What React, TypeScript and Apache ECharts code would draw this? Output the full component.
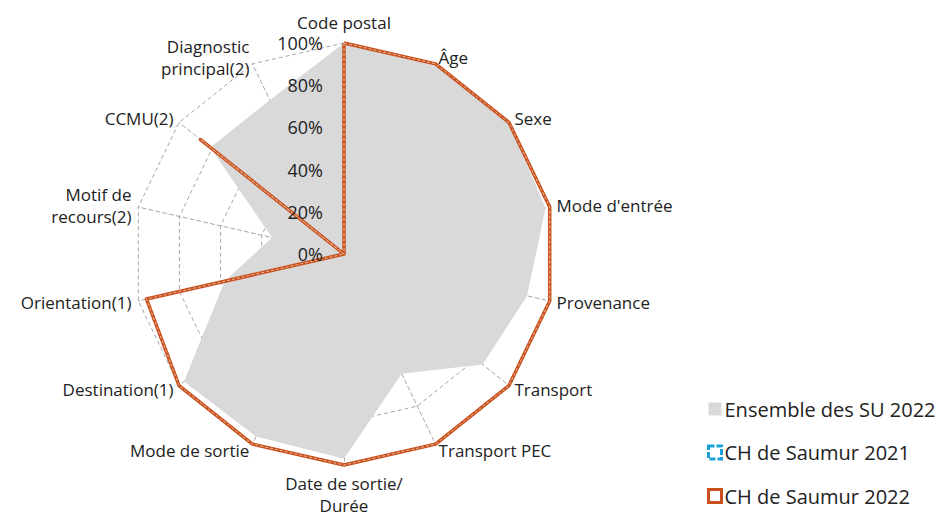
import React, { useEffect, useRef } from "react";
import * as echarts from "echarts";

const categories = [
  "Code postal",
  "Âge",
  "Sexe",
  "Mode d'entrée",
  "Provenance",
  "Transport",
  "Transport PEC",
  "Date de sortie/\nDurée",
  "Mode de sortie",
  "Destination(1)",
  "Orientation(1)",
  "Motif de\nrecours(2)",
  "CCMU(2)",
  "Diagnostic\nprincipal(2)",
];

const ensembleSU2022 = [100, 100, 100, 98, 89, 84, 63, 97, 96, 97, 58, 35, 81, 81];
const saumur2021 = [100, 100, 100, 100, 100, 100, 100, 100, 100, 100, 96, 0, 87, 0];
const saumur2022 = [100, 100, 100, 100, 100, 100, 100, 100, 100, 100, 96, 0, 87, 0];

const seriesNames = ["Ensemble des SU 2022", "CH de Saumur 2021", "CH de Saumur 2022"];
const radialTicks = [0, 20, 40, 60, 80, 100];

const FONT = "'Open Sans', 'Noto Sans', sans-serif";

// ECharts radar runs counter-clockwise; reorder so the chart reads clockwise.
const order = categories.map((_, i) => (i === 0 ? 0 : categories.length - i));
const cw = <T,>(arr: T[]) => order.map((i) => arr[i]);

export default function App() {
  const ref = useRef<HTMLDivElement>(null);
  useEffect(() => {
    document.body.style.margin = "0";
    const chart = echarts.init(ref.current!, null, { renderer: "svg" });
    const center = [344, 254];
    const radius = 211;
    chart.setOption({
      animation: false,
      textStyle: { fontFamily: FONT },
      radar: {
        center,
        radius,
        startAngle: 90,
        shape: "polygon",
        splitNumber: 5,
        indicator: cw(categories).map((name) => ({ name, min: 0, max: 100 })),
        axisName: {
          color: "#222",
          fontSize: 17,
          fontFamily: FONT,
          lineHeight: 22,
          formatter: (v: string) => (v === categories[0] ? `{top|${v}}` : v),
          rich: {
            top: { color: "#222", fontSize: 17, fontFamily: FONT, lineHeight: 22, padding: [0, 0, 6, 0] },
          },
        },
        nameGap: 7,
        splitLine: { lineStyle: { color: "#a6a6a6", type: [4, 3], width: 1 } },
        axisLine: { lineStyle: { color: "#a6a6a6", type: [4, 3], width: 1 } },
        splitArea: { show: false },
        axisTick: { show: false },
        axisLabel: { show: false },
      },
      polar: { center, radius },
      angleAxis: { show: false, min: 0, max: 360, startAngle: 90 },
      radiusAxis: {
        min: radialTicks[0],
        max: radialTicks[radialTicks.length - 1],
        interval: 20,
        axisLine: { show: false },
        axisTick: { show: false },
        splitLine: { show: false },
        axisLabel: {
          formatter: "{value}%",
          fontSize: 18,
          color: "#222",
          fontFamily: FONT,
          margin: 21,
        },
        z: 10,
      },
      legend: {
        orient: "vertical",
        left: 702,
        top: 394,
        itemGap: 23.5,
        itemWidth: 13,
        itemHeight: 13,
        textStyle: { fontSize: 20, color: "#222", fontFamily: FONT, padding: [0, 0, 0, -2] },
        data: [
          { name: seriesNames[0], icon: "rect", itemStyle: { color: "#d9d9d9", borderWidth: 0 } },
          {
            name: seriesNames[1],
            icon: "rect",
            itemStyle: { color: "#fff", borderColor: "#1ba1d9", borderWidth: 3, borderType: [6, 2] },
          },
          {
            name: seriesNames[2],
            icon: "rect",
            itemStyle: { color: "#fff", borderColor: "#c9501c", borderWidth: 3 },
          },
        ],
      },
      series: [
        {
          type: "radar",
          z: 1,
          symbol: "none",
          data: [
            {
              name: seriesNames[0],
              value: cw(ensembleSU2022),
              areaStyle: { color: "#d9d9d9", opacity: 1 },
              lineStyle: { width: 0, color: "#d9d9d9" },
              itemStyle: { color: "#d9d9d9" },
            },
          ],
        },
        {
          type: "radar",
          z: 3,
          symbol: "circle",
          symbolSize: (v: number) => (v === 0 ? 8 : 0),
          data: [
            {
              name: seriesNames[1],
              value: cw(saumur2021),
              lineStyle: { width: 1, color: "#e8b89c", type: [3, 2] },
              itemStyle: { color: "#a6a6a6", borderWidth: 0 },
            },
          ],
        },
        {
          type: "radar",
          z: 2,
          symbol: "none",
          data: [
            {
              name: seriesNames[2],
              value: cw(saumur2022),
              lineStyle: { width: 3.5, color: "#c9501c" },
              itemStyle: { color: "#c9501c" },
            },
          ],
        },
      ],
    });
    return () => chart.dispose();
  }, []);
  return <div ref={ref} style={{ width: 945, height: 515 }} />;
}
